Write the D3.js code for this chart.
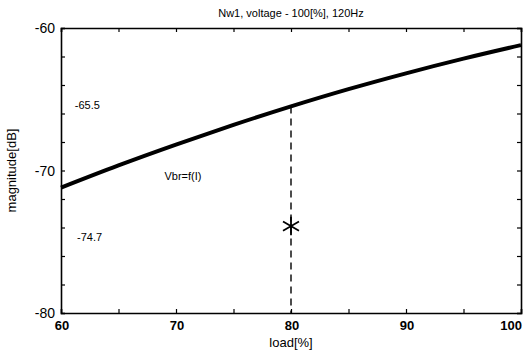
<!DOCTYPE html>
<html>
<head>
	<meta charset="utf-8">
	<title>Nw1 voltage</title>
	<script src="https://cdn.jsdelivr.net/npm/d3@7"></script>
	<style>
		body { margin: 0; background: #fff; }
		text { font-family: "Liberation Sans", Arial, sans-serif; fill: #000; }
	</style>
</head>
<body>
	<div id="chart"></div>
	<script type="text/javascript">
		// data
		var loads = [60, 65, 70, 75, 80, 85, 90, 95, 100];
		var magnitudes = [-71.2, -69.64, -68.18, -66.8, -65.5, -64.29, -63.18, -62.15, -61.2];
		var xTicks = [60, 70, 80, 90, 100];
		var yTicks = [-60, -70, -80];
		var marker = { load: 80, value: -73.9 };
		var notes = [
			{ text: "-65.5", x: 61.2, y: -65.4 },
			{ text: "-74.7", x: 61.4, y: -74.7 },
			{ text: "Vbr=f(I)", x: 69, y: -70.4 }
		];

		var width = 523, height = 352;
		var margin = { top: 28, right: 2, bottom: 39, left: 61 };

		var svg = d3.select("#chart")
			.append("svg")
			.attr("width", width)
			.attr("height", height);

		var x = d3.scaleLinear()
			.domain([60, 100])
			.range([margin.left, width - margin.right]);

		var y = d3.scaleLinear()
			.domain([-80, -60])
			.range([height - margin.bottom, margin.top]);

		// small inward ticks on all four sides
		var minorX = d3.range(60, 100.1, 5);
		var minorY = d3.range(-80, -59.9, 2);

		svg.append("g")
			.attr("transform", "translate(0," + y(-80) + ")")
			.call(d3.axisBottom(x).tickValues(minorX).tickSize(-4).tickFormat(""));
		svg.append("g")
			.attr("transform", "translate(0," + y(-60) + ")")
			.call(d3.axisTop(x).tickValues(minorX).tickSize(-4).tickFormat(""));
		svg.append("g")
			.attr("transform", "translate(" + x(60) + ",0)")
			.call(d3.axisLeft(y).tickValues(minorY).tickSize(-4).tickFormat(""));
		svg.append("g")
			.attr("transform", "translate(" + x(100) + ",0)")
			.call(d3.axisRight(y).tickValues(minorY).tickSize(-4).tickFormat(""));

		svg.selectAll(".domain").attr("stroke", "#000").attr("stroke-width", 1.6);
		svg.selectAll(".tick line").attr("stroke", "#000").attr("stroke-width", 1.2);

		// tick labels
		svg.selectAll(".xlab")
			.data(xTicks)
			.enter()
				.append("text")
				.attr("x", function(d) { return d == 100 ? width - 1 : x(d) + 1; })
				.attr("y", 330)
				.attr("text-anchor", function(d) { return d == 100 ? "end" : "middle"; })
				.attr("font-size", "13px")
				.attr("font-weight", "bold")
				.text(function(d) { return d; });

		svg.selectAll(".ylab")
			.data(yTicks)
			.enter()
				.append("text")
				.attr("x", 55)
				.attr("y", function(d) { return y(d) + 5; })
				.attr("text-anchor", "end")
				.attr("font-size", "14px")
				.text(function(d) { return d; });

		// dashed guide from curve down to the axis
		var at80 = magnitudes[loads.indexOf(marker.load)];
		svg.append("line")
			.attr("x1", x(marker.load))
			.attr("x2", x(marker.load))
			.attr("y1", y(at80))
			.attr("y2", y(-80))
			.attr("stroke", "#000")
			.attr("stroke-width", 1.4)
			.attr("stroke-dasharray", "7,5");

		// main curve
		var line = d3.line()
			.x(function(d, i) { return x(loads[i]); })
			.y(function(d) { return y(d); })
			.curve(d3.curveMonotoneX);

		svg.append("path")
			.datum(magnitudes)
			.attr("d", line)
			.attr("fill", "none")
			.attr("stroke", "#000")
			.attr("stroke-width", 4);

		// star marker
		svg.append("path")
			.attr("transform", "translate(" + x(marker.load) + "," + y(marker.value) + ")")
			.attr("d", d3.symbol().type(d3.symbolAsterisk).size(240)())
			.attr("fill", "none")
			.attr("stroke", "#000")
			.attr("stroke-width", 1.8);

		// annotations
		svg.selectAll(".note")
			.data(notes)
			.enter()
				.append("text")
				.attr("x", function(d) { return x(d.x); })
				.attr("y", function(d) { return y(d.y) + 4; })
				.attr("font-size", "11px")
				.text(function(d) { return d.text; });

		// titles
		svg.append("text")
			.attr("x", (x(60) + x(100)) / 2)
			.attr("y", 17)
			.attr("text-anchor", "middle")
			.attr("font-size", "11px")
			.text("Nw1, voltage - 100[%], 120Hz");

		svg.append("text")
			.attr("x", x(80))
			.attr("y", 347)
			.attr("text-anchor", "middle")
			.attr("font-size", "13px")
			.text("load[%]");

		svg.append("text")
			.attr("transform", "translate(16," + y(-70) + ") rotate(-90)")
			.attr("text-anchor", "middle")
			.attr("font-size", "13px")
			.text("magnitude[dB]");
	</script>
</body>
</html>
